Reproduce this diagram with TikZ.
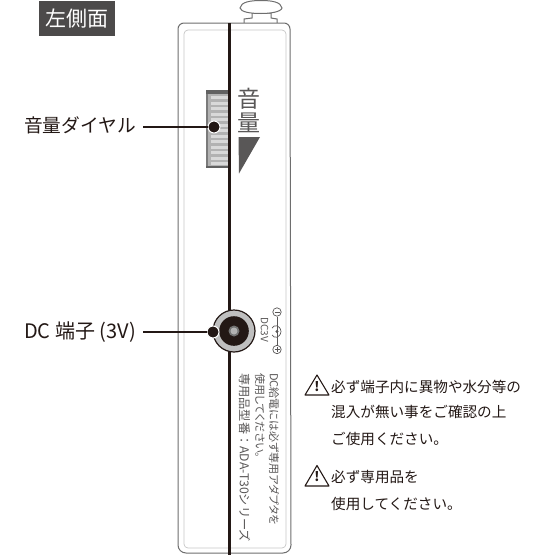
\documentclass[tikz,border=0pt]{standalone}
\usepackage{fontspec}
\setmainfont{Noto Sans CJK JP}
\usetikzlibrary{calc}
\definecolor{ink}{HTML}{231815}
\definecolor{soft}{HTML}{595757}
\definecolor{edge}{HTML}{6E6E6E}
\tikzset{
  x=1pt,y=-1pt,
  lab/.style={inner sep=0,anchor=west,text=ink,font=\fontsize{18.7}{18.7}\selectfont},
  warn/.style={inner sep=0,anchor=west,text=ink,font=\fontsize{14.6}{14.6}\selectfont},
  rot/.style={inner sep=0,anchor=west,rotate=-90,text=soft,font=\fontsize{11}{11}\selectfont\addfontfeature{RawFeature=+palt}},
  pin/.style={circle,fill=ink,draw=white,line width=1pt,minimum size=12pt,inner sep=0},
  leader/.style={draw=ink,line width=2.2pt},
  body/.style={draw=edge,line width=1pt,fill=white},
  tri/.style={draw=ink,line width=1.1pt,line join=round,fill=white},
}
\begin{document}
\begin{tikzpicture}
\useasboundingbox (0,0) rectangle (550,555);
% knob
\draw[body,fill=white] (244,23) -- (244,19) -- (252,18) -- (252,13) -- (271,13) -- (271,18) -- (277,19) -- (277,23);
\draw[body] (240,8) .. controls (241,2) and (250,0.5) .. (261,0.5) .. controls (272,0.5) and (281,2) .. (282,8) .. controls (281,12) and (270,13.5) .. (261,13.5) .. controls (250,13.5) and (241,12) .. (240,8) -- cycle;
% case
\draw[body] (178,29) arc[start angle=180,end angle=270,radius=6] -- (284,23) arc[start angle=270,end angle=360,radius=6] -- (291,545) arc[start angle=0,end angle=90,radius=8] -- (186,553) arc[start angle=90,end angle=180,radius=8] -- cycle;
\draw[draw=black!22,line width=.7pt,rounded corners=4pt] (184,30) -- (286,30) -- (286,548) -- (184,548) -- cycle;
% dial
\fill[black!30] (206,90) rectangle (229,168);
\foreach \yy in {96,101.5,...,163} {\fill[black!15] (211,\yy) rectangle (229,\yy+3);}
\fill[black!62] (206,90) rectangle (229,94);
\fill[black!52] (206,94) rectangle (208,168);
\fill[black!62] (206,166) rectangle (229,168);
% centre line
\draw[draw=ink,line width=3pt] (229,23) -- (229,555);
% volume mark
\node[inner sep=0,text=soft,font=\fontsize{23}{23}\selectfont] (volone) at (249,99) {音};
\node[inner sep=0,text=soft,font=\fontsize{23}{23}\selectfont] (voltwo) at (249,123) {量};
\fill[soft] (238.5,137) -- (260,137) -- (239,173.5) -- cycle;
% jack
\node[circle,draw=ink,fill=black!25,line width=1.2pt,minimum size=42pt,inner sep=0] (jackring) at (234,331) {};
\fill[ink] (234,331) circle[radius=14.8];
\fill[black!55] (234,331) circle[radius=5.5];
\fill[black!30] (234,331) circle[radius=3.5];
% polarity symbol
\draw[soft,line width=.7pt] (277,317) -- (277,345);
\draw[soft,line width=.7pt,fill=white] (277,312) circle[radius=4.2];
\draw[soft,line width=.7pt] (274.5,312) -- (279.5,312);
\draw[soft,line width=.7pt,fill=white] (277,349.5) circle[radius=4.2];
\draw[soft,line width=.7pt] (274.5,349.5) -- (279.5,349.5) (277,347) -- (277,352);
\draw[soft,line width=.7pt] (272,328) .. controls (274,324.5) and (280,324.5) .. (281,331.5) .. controls (280,338.5) and (274,338.5) .. (272,335);
\fill[soft] (277,331.5) circle[radius=1.7];
\node[rot,font=\fontsize{10}{10}\selectfont] (volt) at (264.5,317) {DC3V};
% side text
\node[rot] (rotone) at (274,373) {DC給電には必ず専用アダプタを};
\node[rot] (rottwo) at (260,373) {使用してください。};
\node[rot,font=\fontsize{12.2}{12.2}\selectfont] (rotthree) at (244.5,373) {専用品型番：ADA-T30シリーズ};
% labels and leaders
\coordinate (volstart) at (143,127);
\coordinate (jackstart) at (143,332);
\node[pin] (voldot) at (214,127) {};
\node[pin] (jackdot) at (213,332) {};
\node[lab] (vollab) at (24,125) {音量ダイヤル};
\node[lab,font=\fontsize{20}{20}\selectfont] (jacklab) at (24,332) {DC 端子 (3V)};
\draw[leader] (volstart) -- (voldot.west);
\draw[leader] (jackstart) -- (jackdot.west);
% title
\node[fill=soft!85!black,text=white,inner sep=0,minimum width=76pt,minimum height=35pt,font=\fontsize{21}{21}\selectfont] (title) at (77,18.5) {左側面};
% warnings
\draw[tri] (317,375) -- (329,395) -- (305,395) -- cycle;
\node[inner sep=0,font=\fontsize{13}{13}\selectfont\bfseries,text=ink] (markone) at (317,386.5) {!};
\draw[tri] (317,465.5) -- (329,486) -- (305,486) -- cycle;
\node[inner sep=0,font=\fontsize{13}{13}\selectfont\bfseries,text=ink] (marktwo) at (317,477) {!};
\node[warn] (wone) at (331,387) {必ず端子内に異物や水分等の};
\node[warn] (wtwo) at (331,412) {混入が無い事をご確認の上};
\node[warn] (wthree) at (331,439) {ご使用ください。};
\node[warn] (wfour) at (331,477) {必ず専用品を};
\node[warn] (wfive) at (331,504) {使用してください。};
\end{tikzpicture}
\end{document}
